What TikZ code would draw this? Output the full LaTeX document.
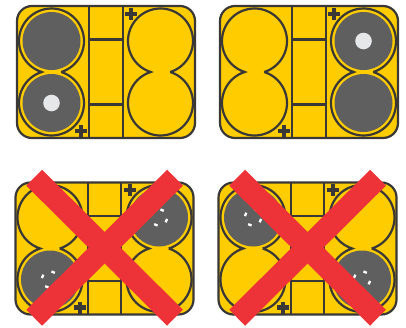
\documentclass[tikz,border=0pt]{standalone}
\usepackage{tikz}
\definecolor{caseyellow}{RGB}{255,204,0}
\definecolor{casedark}{RGB}{58,56,54}
\definecolor{discgrey}{RGB}{95,95,96}
\definecolor{dotwhite}{RGB}{230,231,233}
\definecolor{crossred}{RGB}{238,51,56}
\tikzset{
  caseline/.style={draw=casedark, line width=2.2pt},
  plusmark/.style={casedark, line width=4.2pt},
  dashmark/.style={white, line width=2.3pt}
}
% yellow case with its two double cells
\newcommand{\casebody}{
  \draw[caseline, fill=caseyellow, rounded corners=15pt] (17,6) rectangle (195,138);
  \draw[caseline] (89.3,6) -- (89.3,138) (122.7,6) -- (122.7,138);
  \draw[caseline] (89.3,39.5) -- (122.7,39.5) (89.3,104.5) -- (122.7,104.5);
  \foreach \x in {51.5,160.5} {
    \draw[caseline] (\x+9.76,72) arc[start angle=72.5, end angle=-252.5, radius=32.5]
      arc[start angle=252.5, end angle=-72.5, radius=32.5];
  }
  \draw[plusmark] (125,13.6) -- (137.2,13.6) (131.1,7.5) -- (131.1,19.7);
  \draw[plusmark] (75,131) -- (87.2,131) (81.1,125) -- (81.1,137.2);
}
\begin{document}
\begin{tikzpicture}[x=1pt, y=1pt, yscale=-1]
  \useasboundingbox (0,0) rectangle (406,327);
  \foreach \ox/\oy in {0/0, 203/0, -1.5/176.5, 201.5/176.5} {
    \begin{scope}[shift={(\ox,\oy)}]
      \casebody
    \end{scope}
  }
  % grey discs
  \foreach \cx/\cy in {51.5/41, 51.5/103, 363.5/41, 363.5/103, 50/279.5, 159/217.5, 253/217.5, 362/279.5} {
    \fill[discgrey] (\cx,\cy) circle[radius=29];
  }
  \foreach \cx/\cy in {51.5/103, 363.5/41} {
    \fill[dotwhite] (\cx,\cy) circle[radius=8.3];
  }
  \foreach \cx/\cy in {50/279.5, 159/217.5, 253/217.5, 362/279.5} {
    \foreach \a in {-67,23,113,203} {
      \draw[dashmark] ([shift={(\cx,\cy)}]\a-13:8.2) arc[start angle=\a-13, end angle=\a+13, radius=8.2];
    }
  }
  % red crosses
  \foreach \ox in {0,203} {
    \draw[crossred, line width=22.4pt] (\ox+34.2,177.7) -- (\ox+175,317.7);
    \draw[crossred, line width=22.4pt] (\ox+175,177.7) -- (\ox+34.2,317.7);
  }
\end{tikzpicture}
\end{document}
